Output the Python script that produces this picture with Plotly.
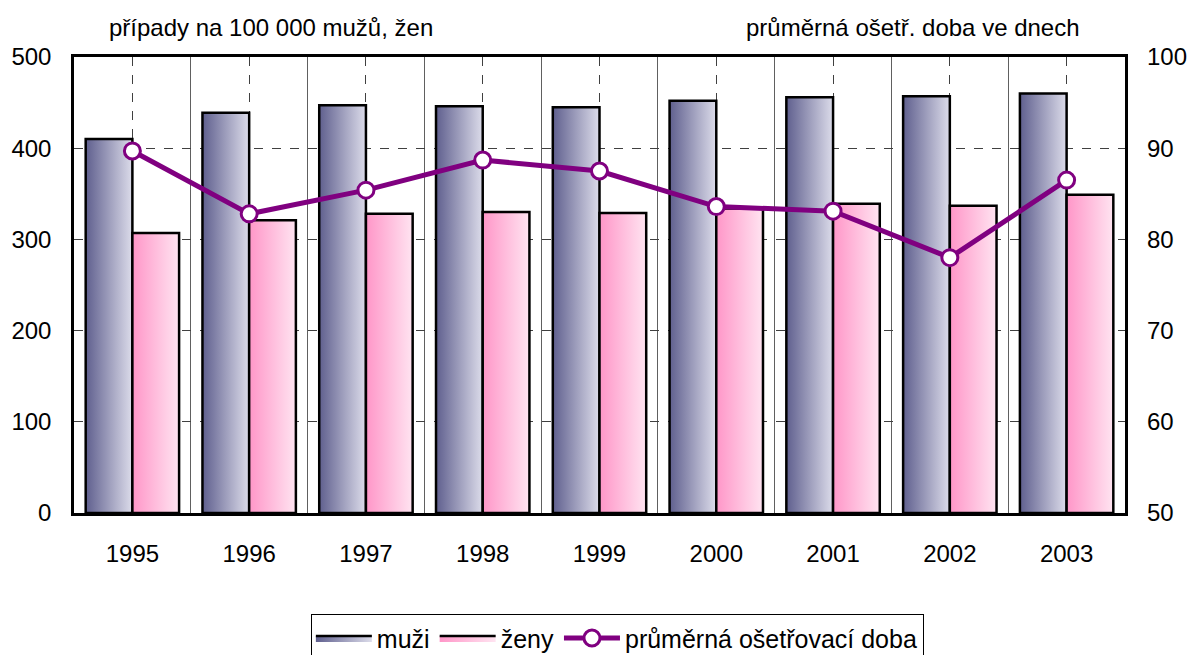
import plotly.graph_objects as go

years = ["1995", "1996", "1997", "1998", "1999", "2000", "2001", "2002", "2003"]
muzi = [410, 439, 447, 446, 445, 452, 456, 457, 460]
zeny = [307, 321, 328, 330, 329, 334, 339, 337, 349]
doba = [89.7, 82.8, 85.4, 88.7, 87.5, 83.6, 83.1, 78.0, 86.5]

left_title = "případy na 100 000 mužů, žen"
right_title = "průměrná ošetř. doba ve dnech"
names = ["muži", "ženy", "průměrná ošetřovací doba"]

FONT = "Liberation Sans Narrow, Arial Narrow, Liberation Sans, Arial, sans-serif"
BAR_W = 0.4

fig = go.Figure()

series = [
    (muzi, names[0], "#5f5f8e", "#dcdcea", -BAR_W),
    (zeny, names[1], "#ff96c8", "#ffe4f1", 0.0),
]
for vals, name, c1, c2, off in series:
    for i, v in enumerate(vals):
        l = i + off
        r = l + BAR_W
        fig.add_trace(go.Scatter(
            x=[l, l, r, r, l], y=[0, v, v, 0, 0],
            mode="lines", fill="toself",
            line=dict(color="black", width=2.5),
            fillgradient=dict(type="horizontal", colorscale=[[0, c1], [1, c2]],
                              start=l, stop=r),
            name=name, legendgroup=name, showlegend=False,
            hoverinfo="skip",
        ))
    # legend entry
    fig.add_trace(go.Scatter(
        x=[None], y=[None], mode="lines", fill="toself",
        line=dict(color="black", width=2.5),
        fillgradient=dict(type="horizontal", colorscale=[[0, c1], [1, c2]]),
        name=name, legendgroup=name, showlegend=True, hoverinfo="skip",
    ))

fig.add_trace(go.Scatter(
    x=list(range(len(years))), y=doba, yaxis="y2",
    mode="lines+markers", name=names[2],
    line=dict(color="#800080", width=5),
    marker=dict(size=16, color="white", line=dict(color="#800080", width=3)),
))

fig.update_layout(
    width=1192, height=655,
    margin=dict(l=74, r=67, t=57, b=142, autoexpand=False),
    paper_bgcolor="white", plot_bgcolor="white",
    font=dict(family=FONT, size=24, color="black"),
    showlegend=True,
    legend=dict(orientation="h", x=0.517, xanchor="center", y=-0.222, yanchor="top",
                bordercolor="black", borderwidth=1, font=dict(size=25),
                itemwidth=56, tracegroupgap=0),
    xaxis=dict(
        range=[-0.5, len(years) - 0.5], automargin=False,
        tickmode="array", tickvals=list(range(len(years))), ticktext=years,
        showgrid=True, gridcolor="#404040", griddash="dash", gridwidth=1,
        minor=dict(tickmode="array", tickvals=[i + 0.5 for i in range(len(years) - 1)],
                   showgrid=True, gridcolor="#606060", griddash="solid", gridwidth=1),
        showline=True, linecolor="black", linewidth=2.5, mirror=True,
        ticks="", ticklabelstandoff=17, zeroline=False,
    ),
    yaxis=dict(
        range=[0, 500], dtick=100, tick0=0, automargin=False,
        showgrid=True, gridcolor="#404040", griddash="dash", gridwidth=1,
        showline=True, linecolor="black", linewidth=2.5, mirror=True,
        ticks="", ticklabelstandoff=15, zeroline=False,
    ),
    yaxis2=dict(
        range=[50, 100], dtick=10, tick0=50, overlaying="y", side="right",
        automargin=False,
        showgrid=False, zeroline=False, ticks="", ticklabelstandoff=21,
    ),
    annotations=[
        dict(text=left_title, xref="paper", yref="paper", x=0.031, y=1.064,
             xanchor="left", yanchor="middle", showarrow=False, font=dict(size=24)),
        dict(text=right_title, xref="paper", yref="paper", x=0.959, y=1.064,
             xanchor="right", yanchor="middle", showarrow=False, font=dict(size=24)),
    ],
)

fig.write_html("out.html", config={"displayModeBar": False},
               post_script="document.body.style.margin='0';")
